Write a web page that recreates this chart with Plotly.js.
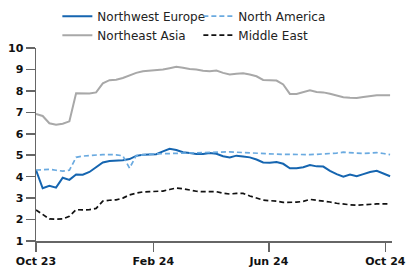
<!DOCTYPE html>
<html><head><meta charset="utf-8">
<script src="https://cdn.plot.ly/plotly-3.0.1.min.js"></script>
<style>html,body{margin:0;padding:0;background:#fff}#c{width:408px;height:271px}</style>
</head><body><div id="c"></div>
<script>
// Weekly observations, starting 2023-10-01
const startDate = '2023-10-01';
const nwEurope = [4.31,3.46,3.57,3.49,3.95,3.85,4.10,4.09,4.22,4.45,4.66,4.73,4.74,4.77,4.82,4.97,5.02,5.03,5.05,5.18,5.30,5.24,5.14,5.10,5.06,5.06,5.10,5.07,4.95,4.90,4.98,4.94,4.90,4.80,4.66,4.65,4.68,4.60,4.39,4.39,4.44,4.54,4.48,4.47,4.27,4.12,4.00,4.10,4.02,4.12,4.22,4.27,4.15,4.02];
const northAmerica = [4.31,4.33,4.34,4.30,4.26,4.30,4.90,4.96,4.99,5.01,5.03,5.03,5.02,4.97,4.40,4.98,5.02,5.05,5.06,5.07,5.08,5.08,5.10,5.10,5.10,5.12,5.14,5.16,5.17,5.16,5.14,5.12,5.10,5.08,5.06,5.06,5.05,5.04,5.03,5.02,5.03,5.03,5.04,5.05,5.06,5.10,5.14,5.12,5.10,5.08,5.10,5.12,5.08,5.03];
const neAsia = [6.93,6.83,6.49,6.42,6.47,6.58,7.89,7.87,7.88,7.93,8.35,8.50,8.52,8.60,8.73,8.84,8.92,8.95,8.96,9.00,9.06,9.12,9.08,9.02,9.00,8.94,8.92,8.95,8.84,8.77,8.80,8.82,8.76,8.68,8.51,8.48,8.48,8.30,7.86,7.86,7.95,8.03,7.95,7.93,7.87,7.80,7.70,7.68,7.67,7.72,7.77,7.80,7.80,7.80];
const middleEast = [2.45,2.22,2.03,2.02,2.03,2.15,2.46,2.45,2.46,2.52,2.86,2.90,2.92,3.00,3.15,3.23,3.29,3.30,3.30,3.33,3.40,3.47,3.44,3.38,3.32,3.30,3.30,3.30,3.23,3.19,3.22,3.22,3.10,3.00,2.91,2.88,2.86,2.80,2.80,2.81,2.85,2.94,2.90,2.87,2.82,2.76,2.71,2.69,2.67,2.70,2.73,2.73,2.73,2.73];
const seriesNames = ['Northwest Europe','North America','Northeast Asia','Middle East'];

const dates = nwEurope.map((_, i) => {
  const d = new Date(startDate + 'T00:00:00Z');
  d.setUTCDate(d.getUTCDate() + 7 * i);
  return d.toISOString().slice(0, 10);
});

const traces = [
  {x: dates, y: nwEurope, name: seriesNames[0], mode: 'lines', line: {color: '#1565b0', width: 2}},
  {x: dates, y: northAmerica, name: seriesNames[1], mode: 'lines', line: {color: '#6aaae0', width: 1.7, dash: '5px,3px'}},
  {x: dates, y: neAsia, name: seriesNames[2], mode: 'lines', line: {color: '#a8a8a8', width: 2}},
  {x: dates, y: middleEast, name: seriesNames[3], mode: 'lines', line: {color: '#111111', width: 1.7, dash: '5px,3px'}}
];

const axisCommon = {
  showgrid: false, zeroline: false, showline: true, linecolor: '#666', linewidth: 1.5,
  ticks: 'outside', tickcolor: '#666', tickwidth: 1.5, ticklen: 9,
  tickfont: {family: 'DejaVu Sans', size: 11, color: '#111', weight: 'bold'}
};

const layout = {
  width: 408, height: 271,
  margin: {l: 36, r: 16, t: 48, b: 30, autoexpand: false},
  paper_bgcolor: '#fff', plot_bgcolor: '#fff',
  showlegend: true,
  legend: {orientation: 'h', x: 0.06, xanchor: 'left', y: 1.24, yanchor: 'top',
    entrywidth: 96, font: {family: 'DejaVu Sans', size: 12, color: '#222'},
    tracegroupgap: 0, itemwidth: 30},
  xaxis: Object.assign({}, axisCommon, {type: 'date', range: ['2023-10-01', '2024-10-08'],
    tickvals: ['2023-10-01','2024-02-01','2024-06-01','2024-10-01'], tickformat: '%b %y'}),
  yaxis: Object.assign({}, axisCommon, {range: [1, 10], dtick: 1, tick0: 1})
};

Plotly.newPlot('c', traces, layout, {displayModeBar: false, staticPlot: true});
</script></body></html>
